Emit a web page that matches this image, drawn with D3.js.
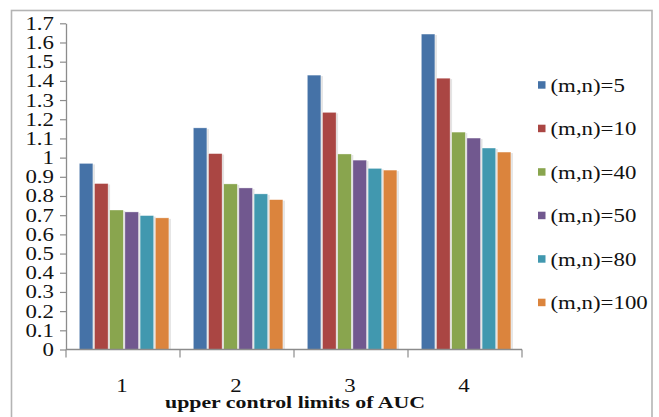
<!DOCTYPE html>
<html><head><meta charset="utf-8">
<script src="https://cdn.jsdelivr.net/npm/d3@7"></script>
<style>html,body{margin:0;padding:0;background:#fff;}svg{display:block;}</style>
</head><body>
<svg id="c" width="659" height="417"></svg>
<script>
const categories = ["1","2","3","4"];
const seriesNames = ["(m,n)=5","(m,n)=10","(m,n)=40","(m,n)=50","(m,n)=80","(m,n)=100"];
const s5   = [0.97, 1.155, 1.43, 1.644];
const s10  = [0.865, 1.021, 1.236, 1.414];
const s40  = [0.727, 0.863, 1.019, 1.133];
const s50  = [0.717, 0.842, 0.987, 1.102];
const s80  = [0.698, 0.811, 0.944, 1.050];
const s100 = [0.686, 0.781, 0.935, 1.029];
const yTicks = [0,0.1,0.2,0.3,0.4,0.5,0.6,0.7,0.8,0.9,1,1.1,1.2,1.3,1.4,1.5,1.6,1.7];
const xTitle = "upper control limits of AUC";
const colors = ["#4572A7","#AA4643","#89A54E","#71588F","#4198AF","#DB843D"];
const series = [s5,s10,s40,s50,s80,s100];

(function(){
const svg = d3.select("#c");
const SX = 1.27;
const font = "'Liberation Serif','Times New Roman',serif";

// frame
svg.append("rect").attr("x",11.5).attr("y",10.5).attr("width",640.5).attr("height",420)
  .attr("fill","#fff").attr("stroke","#b4b4b4").attr("stroke-width",1.6);

const pl = 66, pr = 522, pt = 23.3, pb = 349.5;
const y = d3.scaleLinear().domain([0,1.7]).range([pb, pt]);
const x0 = d3.scaleBand().domain(categories).range([pl,pr]).padding(0);
const x1 = d3.scaleBand().domain(d3.range(seriesNames.length)).range([13.3, 13.3+6*15.2]).padding(0);

// bars
categories.forEach((c,ci)=>{
  series.forEach((s,si)=>{
    const bx = x0(c)+x1(si), bw = x1.bandwidth()-1.6, by = y(s[ci]);
    svg.append("rect").attr("x",bx+1).attr("y",by+1).attr("width",bw+1).attr("height",pb-by-1)
      .attr("fill","#e4e4e4");
    svg.append("rect").attr("x",bx).attr("y",by).attr("width",bw).attr("height",pb-by)
      .attr("fill",colors[si]).attr("stroke","#ffffff").attr("stroke-width",0.6).attr("stroke-opacity",0.6);
  });
});

const axisColor = "#8c8c8c";
// y axis
const gy = svg.append("g").attr("transform",`translate(${pl},0)`)
  .call(d3.axisLeft(y).tickValues(yTicks).tickSize(6).tickSizeOuter(0).tickFormat(()=>""));
gy.select(".domain").attr("stroke",axisColor).attr("stroke-width",1.3);
gy.selectAll(".tick line").attr("stroke",axisColor).attr("stroke-width",1.2);
yTicks.forEach(t=>{
  svg.append("text").attr("transform",`translate(54,${y(t)+6.5}) scale(${SX},1)`)
    .attr("text-anchor","end").attr("font-family",font).attr("font-size",18).attr("fill","#111")
    .text(String(t));
});

// x axis
svg.append("line").attr("x1",pl).attr("x2",pr).attr("y1",pb).attr("y2",pb)
  .attr("stroke",axisColor).attr("stroke-width",1.3);
const bounds = categories.map(c=>x0(c)).concat([pr]);
bounds.forEach(bx=>{
  svg.append("line").attr("x1",bx).attr("x2",bx).attr("y1",pb).attr("y2",pb+8)
    .attr("stroke",axisColor).attr("stroke-width",1.2);
});
categories.forEach(c=>{
  svg.append("text").attr("transform",`translate(${x0(c)+x0.bandwidth()/2-1},392) scale(${SX},1)`)
    .attr("text-anchor","middle").attr("font-family",font).attr("font-size",18).attr("fill","#111")
    .text(c);
});
svg.append("text").attr("x",165).attr("y",408).attr("textLength",260).attr("lengthAdjust","spacingAndGlyphs")
  .attr("font-family",font).attr("font-weight","bold").attr("font-size",16.5).attr("fill","#111")
  .text(xTitle);

// legend
seriesNames.forEach((n,i)=>{
  const cy = 85 + i*43.5;
  svg.append("rect").attr("x",538).attr("y",cy-3.8).attr("width",7.5).attr("height",7.5).attr("fill",colors[i]);
  svg.append("text").attr("transform",`translate(550.5,${cy+6.5}) scale(${SX},1)`)
    .attr("font-family",font).attr("font-size",18).attr("fill","#111").text(n);
});
})();
</script>
</body></html>
